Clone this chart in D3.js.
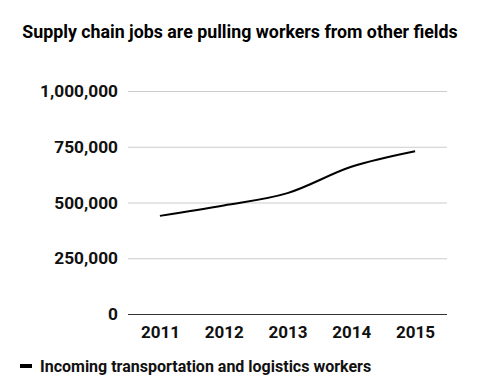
<!DOCTYPE html>
<html>
<head>
<meta charset="utf-8">
<script src="https://cdn.jsdelivr.net/npm/d3@7"></script>
<style>
  body { margin: 0; background: #fff; }
  text { font-family: Roboto, "Noto Sans", sans-serif; }
</style>
</head>
<body>
<div id="chart"></div>
<script>
const years = ["2011", "2012", "2013", "2014", "2015"];
const workers = [440000, 487000, 542000, 660000, 730000];
const yTicks = [0, 250000, 500000, 750000, 1000000];

const width = 482, height = 392;
const margin = { top: 91, right: 35, bottom: 78, left: 128 };

const svg = d3.select("#chart").append("svg")
  .attr("width", width)
  .attr("height", height);

// title
svg.append("text")
  .attr("x", 240)
  .attr("y", 38)
  .attr("text-anchor", "middle")
  .style("font-size", "17.8px")
  .style("font-weight", "bold")
  .attr("fill", "#000")
  .text("Supply chain jobs are pulling workers from other fields");

const x = d3.scalePoint()
  .domain(years)
  .range([margin.left, width - margin.right])
  .padding(0.5);

const y = d3.scaleLinear()
  .domain([0, 1000000])
  .range([height - margin.bottom, margin.top]);

// gridlines + y labels
const yAxis = svg.append("g")
  .attr("transform", `translate(${margin.left},0)`)
  .call(d3.axisLeft(y).tickValues(yTicks).tickFormat(d3.format(",")).tickSize(-(width - margin.left - margin.right)).tickPadding(10));
yAxis.select(".domain").remove();
yAxis.selectAll(".tick line").attr("stroke", d => d === 0 ? "#333" : "#ccc");
yAxis.selectAll(".tick text")
  .style("font-size", "17.3px")
  .style("font-weight", "bold")
  .attr("fill", "#111");

// x labels
const xAxis = svg.append("g")
  .attr("transform", `translate(0,${height - margin.bottom})`)
  .call(d3.axisBottom(x).tickSize(0).tickPadding(12));
xAxis.select(".domain").remove();
xAxis.selectAll(".tick text")
  .style("font-size", "17px")
  .style("font-weight", "bold")
  .attr("fill", "#111");

// the line
const line = d3.line()
  .x((d, i) => x(years[i]))
  .y(d => y(d))
  .curve(d3.curveMonotoneX);

svg.append("path")
  .datum(workers)
  .attr("fill", "none")
  .attr("stroke", "#000")
  .attr("stroke-width", 2)
  .attr("d", line);

// legend
svg.append("rect")
  .attr("x", 20)
  .attr("y", 364)
  .attr("width", 12)
  .attr("height", 4)
  .attr("fill", "#000");
svg.append("text")
  .attr("x", 40)
  .attr("y", 372)
  .style("font-size", "16px")
  .style("font-weight", "bold")
  .attr("fill", "#111")
  .text("Incoming transportation and logistics workers");
</script>
</body>
</html>
